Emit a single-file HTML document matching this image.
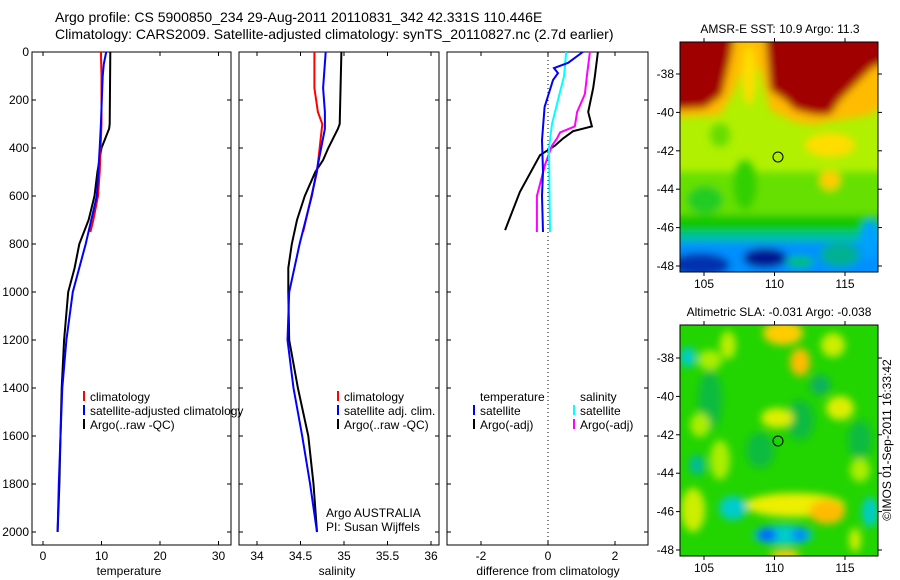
<!DOCTYPE html>
<html><head><meta charset="utf-8">
<style>
html,body{margin:0;padding:0;background:#fff;}
svg{display:block;font-family:"Liberation Sans",Arial,sans-serif;}
</style></head>
<body>
<svg id="fig" width="900" height="580" viewBox="0 0 900 580" xmlns="http://www.w3.org/2000/svg">
<defs>
<filter id="blur" x="-20%" y="-20%" width="140%" height="140%"><feGaussianBlur stdDeviation="4"/></filter>
<clipPath id="clipMap1"><rect x="680" y="42" width="198" height="230"/></clipPath>
<clipPath id="clipMap2"><rect x="680" y="325" width="198" height="231"/></clipPath>
</defs>
<text x="55" y="22" font-size="14">Argo profile: CS 5900850_234 29-Aug-2011 20110831_342 42.331S 110.446E</text>
<text x="55" y="39" font-size="14">Climatology: CARS2009. Satellite-adjusted climatology: synTS_20110827.nc (2.7d earlier)</text>

<!-- Map 1: SST -->
<g>
<text x="780" y="33" font-size="12" text-anchor="middle">AMSR-E SST: 10.9 Argo: 11.3</text>
<g clip-path="url(#clipMap1)">
<rect x="680" y="42" width="198" height="230" fill="#b0f000"/>
<g filter="url(#blur)">
<rect x="670" y="172" width="220" height="65" fill="#66e000"/>
<ellipse cx="705" cy="200" rx="18" ry="14" fill="#22cc22"/>
<ellipse cx="745" cy="185" rx="12" ry="25" fill="#33d000"/>
<ellipse cx="720" cy="135" rx="10" ry="12" fill="#66dd00"/>
<rect x="670" y="215" width="220" height="25" fill="#11c800"/>
<rect x="670" y="232" width="220" height="14" fill="#00c0a0"/>
<rect x="670" y="242" width="220" height="40" fill="#0090ff"/>
<ellipse cx="700" cy="265" rx="30" ry="12" fill="#0030b0"/>
<ellipse cx="765" cy="258" rx="22" ry="10" fill="#001890"/>
<ellipse cx="800" cy="262" rx="14" ry="6" fill="#00c070"/>
<ellipse cx="840" cy="255" rx="20" ry="12" fill="#00b090"/>
<ellipse cx="870" cy="240" rx="10" ry="20" fill="#00a0ff"/>
<polygon points="670,30 890,30 890,100 870,115 840,120 825,122 815,125 795,122 770,110 760,70 745,60 735,90 720,115 670,118" fill="#ffbb00"/>
<ellipse cx="830" cy="145" rx="25" ry="12" fill="#ffdd00"/>
<ellipse cx="830" cy="180" rx="10" ry="10" fill="#ffcc00"/>
<polygon points="670,30 735,30 730,60 722,95 705,108 670,110" fill="#a00000"/>
<polygon points="765,30 890,30 890,60 872,68 855,85 840,100 830,115 815,115 795,110 785,100 770,90" fill="#a00000"/>
<ellipse cx="749" cy="75" rx="7" ry="30" fill="#ffdd00"/>
</g>
</g>
<rect x="680" y="42" width="198" height="230" fill="none" stroke="#000" stroke-width="1"/>
<circle cx="778" cy="157" r="5" fill="none" stroke="#000" stroke-width="1"/>
</g>

<!-- Map 2: SLA -->
<g>
<text x="779" y="316" font-size="12" text-anchor="middle">Altimetric SLA: -0.031 Argo: -0.038</text>
<g clip-path="url(#clipMap2)">
<rect x="680" y="325" width="198" height="231" fill="#22d400"/>
<g filter="url(#blur)">
<ellipse cx="710" cy="400" rx="12" ry="30" fill="#10bb40"/>
<ellipse cx="800" cy="420" rx="14" ry="20" fill="#10bb40"/>
<ellipse cx="860" cy="440" rx="12" ry="20" fill="#10bb40"/>
<ellipse cx="760" cy="450" rx="14" ry="18" fill="#10bb40"/>
<ellipse cx="820" cy="385" rx="10" ry="10" fill="#10b060"/>
<ellipse cx="783" cy="333" rx="20" ry="12" fill="#ffcc00"/>
<ellipse cx="800" cy="362" rx="10" ry="14" fill="#ffbb00"/>
<ellipse cx="833" cy="345" rx="12" ry="12" fill="#ccee00"/>
<ellipse cx="840" cy="408" rx="14" ry="12" fill="#ddee00"/>
<ellipse cx="777" cy="418" rx="16" ry="10" fill="#ddee00"/>
<ellipse cx="710" cy="360" rx="12" ry="10" fill="#aaee00"/>
<ellipse cx="728" cy="345" rx="8" ry="14" fill="#bbee00"/>
<ellipse cx="720" cy="460" rx="10" ry="20" fill="#aaee00"/>
<ellipse cx="700" cy="425" rx="10" ry="12" fill="#aaee00"/>
<ellipse cx="860" cy="470" rx="10" ry="12" fill="#aaee00"/>
<ellipse cx="688" cy="357" rx="8" ry="10" fill="#00cccc"/>
<ellipse cx="697" cy="465" rx="8" ry="10" fill="#00bb99"/>
<ellipse cx="795" cy="505" rx="50" ry="12" fill="#eeee00"/>
<ellipse cx="827" cy="512" rx="18" ry="12" fill="#ffbb00"/>
<ellipse cx="693" cy="510" rx="12" ry="22" fill="#ccee00"/>
<ellipse cx="733" cy="508" rx="14" ry="12" fill="#00cccc"/>
<ellipse cx="783" cy="535" rx="30" ry="10" fill="#00cccc"/>
<ellipse cx="767" cy="535" rx="10" ry="7" fill="#0066ff"/>
<ellipse cx="800" cy="535" rx="8" ry="7" fill="#0088ff"/>
<ellipse cx="870" cy="512" rx="8" ry="15" fill="#00cccc"/>
<ellipse cx="785" cy="556" rx="15" ry="6" fill="#ffcc00"/>
<ellipse cx="855" cy="540" rx="6" ry="12" fill="#ccee00"/>
</g>
</g>
<rect x="680" y="325" width="198" height="231" fill="none" stroke="#000" stroke-width="1"/>
<circle cx="778" cy="441" r="5" fill="none" stroke="#000" stroke-width="1"/>
</g>
<text x="0" y="0" font-size="12" text-anchor="middle" transform="translate(891,440) rotate(-90)">©IMOS 01-Sep-2011 16:33:42</text>

<text x="326" y="517" font-size="12">Argo AUSTRALIA</text>
<text x="326" y="531" font-size="12">PI: Susan Wijffels</text>

<script>
// ---- data ----
const depthTicks = [0,200,400,600,800,1000,1200,1400,1600,1800,2000];
const tempTicks = [0,10,20,30];
const salTicks = [34,34.5,35,35.5,36];
const diffTicks = [-2,0,2];
const lonTicks = [105,110,115];
const latTicks1 = [-38,-40,-42,-44,-46,-48];
const latTicks2 = [-38,-40,-42,-44,-46,-48];

const tempClimDepth = [0,100,300,500,600,700,750];
const tempClimVal = [9.9,10.0,10.0,9.7,9.4,8.6,8.1];
const tempSatDepth = [0,50,100,300,400,600,800,1000,1200,1400,1600,1800,2000];
const tempSatVal = [10.8,10.4,10.2,9.9,9.7,9.2,7.3,5.1,4.0,3.3,3.0,2.7,2.5];
const tempArgoDepth = [0,300,320,400,500,600,700,800,900,1000,1200,1400,1600,1800,2000];
const tempArgoVal = [11.5,11.4,11.3,10.0,9.3,8.8,7.8,6.2,5.4,4.3,3.6,3.2,3.0,2.8,2.5];

const salClimDepth = [0,150,250,300,500,750];
const salClimVal = [34.66,34.66,34.70,34.75,34.69,34.53];
const salSatDepth = [0,150,250,320,450,600,800,1000,1200,1400,1600,1800,2000];
const salSatVal = [34.79,34.76,34.78,34.78,34.71,34.63,34.49,34.37,34.35,34.42,34.52,34.61,34.69];
const salArgoDepth = [0,300,320,400,450,500,600,700,800,900,1000,1200,1400,1600,1800,2000];
const salArgoVal = [34.97,34.95,34.93,34.82,34.76,34.67,34.55,34.46,34.40,34.36,34.36,34.37,34.47,34.59,34.65,34.69];

const dTempSatDepth = [0,45,67,88,117,229,367,500,600,750];
const dTempSatVal = [1.04,0.6,0.18,0.3,0.15,-0.1,-0.18,-0.15,-0.18,-0.15];
const dSalSatDepth = [0,100,200,300,400,750];
const dSalSatVal = [0.54,0.48,0.3,0.12,0.03,0.06];
const dSalArgoDepth = [0,100,175,250,310,335,360,390,470,600,750];
const dSalArgoVal = [1.25,1.16,1.1,0.87,0.8,0.36,0.27,0.12,-0.09,-0.33,-0.33];
const dTempArgoDepth = [0,100,150,250,310,330,360,390,430,583,742];
const dTempArgoVal = [1.49,1.4,1.35,1.2,1.31,0.75,0.45,0.21,-0.24,-0.84,-1.28];

// ---- helpers ----
const NS = "http://www.w3.org/2000/svg";
const svg = document.getElementById('fig');
function mk(tag, attrs, parent){
  const e = document.createElementNS(NS, tag);
  for (const k in attrs) e.setAttribute(k, attrs[k]);
  (parent||svg).appendChild(e);
  return e;
}
const top0 = 52, bot = 545;
function yDepth(d){ return top0 + d*0.24; }
function makeX(v0, px0, pxPerUnit){ return v => px0 + (v - v0)*pxPerUnit; }

const panels = [
  {name:'temperature-panel', x0:32, x1:231, xs:makeX(0,43,5.85), ticks:tempTicks, label:'temperature', lx:129},
  {name:'salinity-panel', x0:239, x1:439, xs:makeX(34,257,87), ticks:salTicks, label:'salinity', lx:337},
  {name:'difference-panel', x0:447, x1:648, xs:makeX(0,548,33.5), ticks:diffTicks, label:'difference from climatology', lx:548}
];

function line(g, xs, depths, vals, color, name){
  let pts = depths.map((d,i)=> xs(vals[i]).toFixed(1)+','+yDepth(d).toFixed(1)).join(' ');
  const p = mk('polyline', {points:pts, fill:'none', stroke:color, 'stroke-width':2}, g);
  
  
}

panels.forEach((P, pi) => {
  const g = mk('g', {});
  
  
  const fr = mk('rect', {x:P.x0, y:top0, width:P.x1-P.x0, height:bot-top0, fill:'none', stroke:'#000', 'stroke-width':1}, g);
  
  
  depthTicks.forEach(d => {
    const y = yDepth(d);
    mk('line', {x1:P.x0, x2:P.x0+4, y1:y, y2:y, stroke:'#000'}, g);
    mk('line', {x1:P.x1, x2:P.x1-4, y1:y, y2:y, stroke:'#000'}, g);
    if (pi === 0){
      const t = mk('text', {x:P.x0-3, y:y+4, 'font-size':12, 'text-anchor':'end'}, g);
      
      
      t.textContent = d;
    }
  });
  P.ticks.forEach(v => {
    const x = P.xs(v);
    mk('line', {x1:x, x2:x, y1:bot, y2:bot-4, stroke:'#000'}, g);
    mk('line', {x1:x, x2:x, y1:top0, y2:top0+4, stroke:'#000'}, g);
    const t = mk('text', {x:x, y:bot+15, 'font-size':12, 'text-anchor':'middle'}, g);
    
    
    t.textContent = v;
  });
  const xl = mk('text', {x:P.lx, y:575, 'font-size':12, 'text-anchor':'middle'}, g);
  
  
  xl.textContent = P.label;
  P.g = g;
});

const zl = mk('line', {x1:548, x2:548, y1:top0, y2:bot, stroke:'#000', 'stroke-dasharray':'1,3'}, panels[2].g);



line(panels[0].g, panels[0].xs, tempArgoDepth, tempArgoVal, '#000', 'temp-argo-line');
line(panels[0].g, panels[0].xs, tempClimDepth, tempClimVal, '#ff0000', 'temp-climatology-line');
line(panels[0].g, panels[0].xs, tempSatDepth, tempSatVal, '#0000ff', 'temp-satellite-line');
line(panels[1].g, panels[1].xs, salArgoDepth, salArgoVal, '#000', 'sal-argo-line');
line(panels[1].g, panels[1].xs, salClimDepth, salClimVal, '#ff0000', 'sal-climatology-line');
line(panels[1].g, panels[1].xs, salSatDepth, salSatVal, '#0000ff', 'sal-satellite-line');
line(panels[2].g, panels[2].xs, dTempArgoDepth, dTempArgoVal, '#000', 'diff-temp-argo-line');
line(panels[2].g, panels[2].xs, dSalArgoDepth, dSalArgoVal, '#ff00ff', 'diff-sal-argo-line');
line(panels[2].g, panels[2].xs, dSalSatDepth, dSalSatVal, '#00ffff', 'diff-sal-satellite-line');
line(panels[2].g, panels[2].xs, dTempSatDepth, dTempSatVal, '#0000ff', 'diff-temp-satellite-line');

function legend(x, y, color, text){
  const g = mk('g', {});
  
  
  if (color) mk('rect', {x:x, y:y-10, width:2, height:10, fill:color}, g);
  const t = mk('text', {x:x+7, y:y, 'font-size':12}, g);
  t.textContent = text;
}
legend(83, 401, '#ff0000', 'climatology');
legend(83, 415, '#0000ff', 'satellite-adjusted climatology');
legend(83, 429, '#000', 'Argo(..raw -QC)');
legend(337, 401, '#ff0000', 'climatology');
legend(337, 415, '#0000ff', 'satellite adj. clim.');
legend(337, 429, '#000', 'Argo(..raw -QC)');
legend(473, 401, null, 'temperature');
legend(473, 415, '#0000ff', 'satellite');
legend(473, 429, '#000', 'Argo(-adj)');
legend(573, 401, null, 'salinity');
legend(573, 415, '#00ffff', 'satellite');
legend(573, 429, '#ff00ff', 'Argo(-adj)');

function mapAxes(x0, y0, w, h, latTicks, latY0, latPx, tickName){
  const lonX = v => 704 + (v-105)*14.1;
  lonTicks.forEach(v => {
    const x = lonX(v);
    mk('line', {x1:x, x2:x, y1:y0, y2:y0-4, stroke:'#000'});
    mk('line', {x1:x, x2:x, y1:y0+h, y2:y0+h+4, stroke:'#000'});
    const t = mk('text', {x:x, y:y0+h+16, 'font-size':12, 'text-anchor':'middle'});
    
    
    t.textContent = v;
  });
  latTicks.forEach(v => {
    const y = latY0 + (-38 - v)*latPx;
    mk('line', {x1:x0, x2:x0-4, y1:y, y2:y, stroke:'#000'});
    mk('line', {x1:x0+w, x2:x0+w+4, y1:y, y2:y, stroke:'#000'});
    const t = mk('text', {x:x0-6, y:y+4, 'font-size':12, 'text-anchor':'end'});
    
    
    t.textContent = v;
  });
}
mapAxes(680, 42, 198, 230, latTicks1, 74, 19.2, 'sst-map');
mapAxes(680, 325, 198, 231, latTicks2, 358, 19.2, 'sla-map');
</script>
</svg>
</body></html>
